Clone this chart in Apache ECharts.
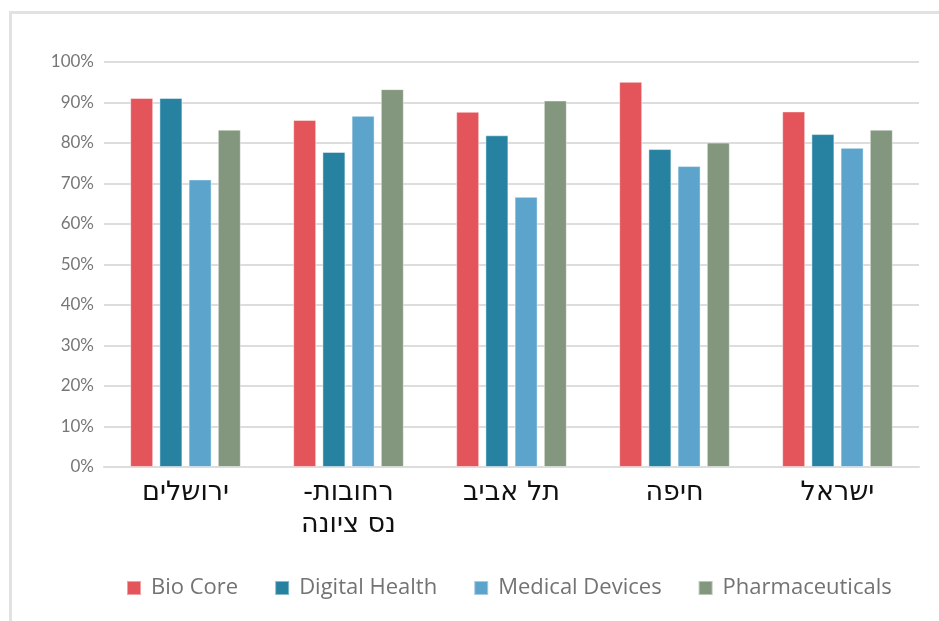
<!DOCTYPE html>
<html>
<head>
<meta charset="utf-8">
<script src="https://cdn.jsdelivr.net/npm/echarts@6/dist/echarts.min.js"></script>
<style>
  html, body { margin: 0; padding: 0; background: #fff; overflow: hidden; }
  #frame {
    position: absolute; left: 9px; top: 11px;
    width: 1000px; height: 700px;
    border-left: 3px solid #e2e2e2; border-top: 3px solid #e2e2e2;
  }
  #chart { position: absolute; left: 0; top: 0; width: 939px; height: 621px; }
</style>
</head>
<body>
<div id="frame"></div>
<div id="chart"></div>
<script>
// ערים / קטגוריות (המקף מוצג מימין לשורה הראשונה)
const cities = ["ירושלים", "-רחובות\nנס ציונה", "תל אביב", "חיפה", "ישראל"];
const seriesNames = ["Bio Core", "Digital Health", "Medical Devices", "Pharmaceuticals"];
const bioCore = [91.1, 85.7, 87.7, 95.1, 87.8];
const digitalHealth = [91.1, 77.8, 81.9, 78.5, 82.2];
const medicalDevices = [71.0, 86.7, 66.7, 74.3, 78.8];
const pharmaceuticals = [83.3, 93.3, 90.5, 80.1, 83.3];
const colors = ["#e3555a", "#2782a2", "#5ca4cc", "#83977f"];

const makeSeries = (name, data, color) => ({
    name: name,
    type: "bar",
    data: data,
    barWidth: 23,
    barGap: "27%",
    itemStyle: {
        color: color,
        borderColor: "rgba(255,255,255,0.45)",
        borderWidth: 1
    }
});

document.addEventListener("DOMContentLoaded", function() {
    const chart = echarts.init(document.getElementById("chart"));
    chart.setOption({
        animation: false,
        color: colors,
        grid: { left: 104, right: 20, top: 62, bottom: 154 },
        legend: {
            bottom: 17,
            left: 121,
            icon: "rect",
            itemWidth: 14,
            itemHeight: 14,
            itemGap: 36,
            textStyle: { fontFamily: "Open Sans", fontSize: 22, color: "#737373", padding: [0, 0, 0, 5] },
            data: seriesNames
        },
        xAxis: {
            type: "category",
            data: cities,
            axisLine: { show: true, lineStyle: { color: "#dddddd", width: 2 } },
            axisTick: { show: false },
            axisLabel: {
                fontFamily: "DejaVu Sans",
                fontSize: 27,
                color: "#111",
                margin: 10,
                lineHeight: 32
            }
        },
        yAxis: {
            type: "value",
            min: 0,
            max: 100,
            interval: 10,
            axisLine: { show: false },
            axisTick: { show: false },
            splitLine: { lineStyle: { color: "#dddddd", width: 2 } },
            axisLabel: {
                formatter: "{value}%",
                fontFamily: "Lato",
                fontSize: 17,
                color: "#777",
                margin: 10
            }
        },
        series: [
            makeSeries(seriesNames[0], bioCore, colors[0]),
            makeSeries(seriesNames[1], digitalHealth, colors[1]),
            makeSeries(seriesNames[2], medicalDevices, colors[2]),
            makeSeries(seriesNames[3], pharmaceuticals, colors[3])
        ]
    });
});
</script>
</body>
</html>
